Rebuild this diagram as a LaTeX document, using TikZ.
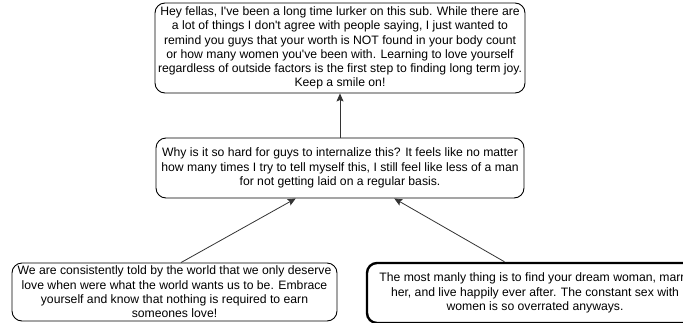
\documentclass[tikz,border=0pt]{standalone}
\usepackage{fontspec}
\setmainfont{Liberation Sans}[Ligatures=TeXOff]
\usetikzlibrary{arrows.meta,positioning,calc}

\tikzset{
  bubble/.style={draw=black, line width=0.9pt, rounded corners=10pt, align=center,
    inner sep=0pt, font=\fontsize{12.2}{14.3}\selectfont},
  link/.style={draw=black!80, line width=0.8pt, -{Stealth[length=8pt,width=7pt,inset=1.5pt]}}
}

\begin{document}
\begin{tikzpicture}[x=1pt,y=-1pt]
\useasboundingbox (0,0) rectangle (683,322);
\clip (0,0) rectangle (683,322);

% the post and its replies
\node[bubble, minimum width=370pt, minimum height=90pt] (post) at (340,48)
  {Hey fellas, I've been a long time lurker on this sub. While there are\\
   a lot of things I don't agree with people saying, I just wanted to\\
   remind you guys that your worth is NOT found in your body count\\
   or how many women you've been with. Learning to love yourself\\
   regardless of outside factors is the first step to finding long term joy.\\
   Keep a smile on!};

\node[bubble, minimum width=368pt, minimum height=60pt] (reply) at (340,168)
  {Why is it so hard for guys to internalize this? It feels like no matter\\
   how many times I try to tell myself this, I still feel like less of a man\\
   for not getting laid on a regular basis.};

\node[bubble, minimum width=325pt, minimum height=58pt] (comment1) at (174.5,292)
  {We are consistently told by the world that we only deserve\\
   love when were what the world wants us to be. Embrace\\
   yourself and know that nothing is required to earn\\
   someones love!};

\node[bubble, line width=2.4pt, minimum width=336pt, minimum height=60pt] (comment2) at (535,293)
  {The most manly thing is to find your dream woman, marry\\
   her, and live happily ever after. The constant sex with\\
   women is so overrated anyways.};

\draw[link] (reply.north) -- (post.south);
\draw[link] ($(comment1.north west)!0.52!(comment1.north east)$) -- ($(reply.south west)!0.38!(reply.south east)$);
\draw[link] ($(comment2.north west)!0.41!(comment2.north east)$) -- ($(reply.south west)!0.647!(reply.south east)$);

\end{tikzpicture}
\end{document}
